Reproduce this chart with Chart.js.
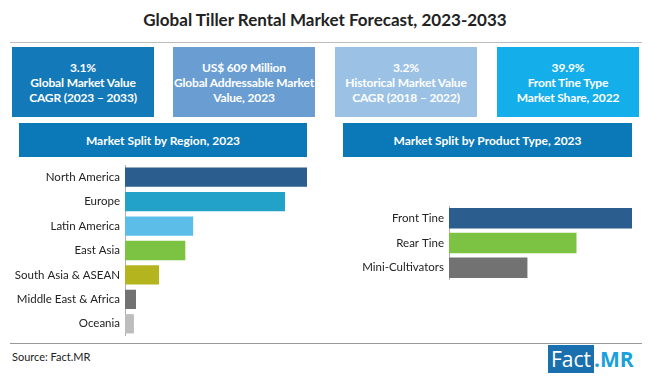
<!DOCTYPE html>
<html>
<head>
<meta charset="utf-8">
<script src="https://cdn.jsdelivr.net/npm/chart.js@4/dist/chart.umd.min.js"></script>
<style>
  html,body{margin:0;padding:0;background:#fff;}
  #wrap{position:relative;width:650px;height:377px;overflow:hidden;font-family:Lato,"Open Sans",sans-serif;}
  .title{position:absolute;left:0;top:9px;width:650px;text-align:center;font-weight:bold;font-size:17px;color:#222;}
  .hline{position:absolute;height:1px;background:#bdbdbd;}
  .box{position:absolute;top:47px;height:70px;width:142px;color:#fff;font-weight:bold;font-size:12px;line-height:15px;text-align:center;display:flex;align-items:center;justify-content:center;white-space:nowrap;letter-spacing:-0.15px;}
  .hdr{position:absolute;top:123px;height:34px;background:#0b78b8;color:#fff;font-weight:bold;font-size:12px;display:flex;align-items:center;justify-content:center;}
  .src{position:absolute;left:12px;top:350px;font-size:11px;color:#222;}
  .logo{position:absolute;top:348px;left:548px;font-size:21px;line-height:23px;font-family:"Open Sans",sans-serif;}
  .logo .f{background:#1a6fae;color:#fff;padding:0 3px;}
  .logo .m{color:#1aa0dc;font-weight:bold;}
  canvas{position:absolute;display:block;}
</style>
</head>
<body>
<div id="wrap">
  <div class="title">Global Tiller Rental Market Forecast, 2023-2033</div>
  <div class="hline" style="left:10px;top:42px;width:632px;"></div>
  <div class="box" style="left:12px;background:#1479b8;">3.1%<br>Global Market Value<br>CAGR (2023 – 2033)</div>
  <div class="box" style="left:173px;background:#6a9ed3;">US$ 609 Million<br>Global Addressable Market<br>Value, 2023</div>
  <div class="box" style="left:335px;background:#9bc2e5;">3.2%<br>Historical Market Value<br>CAGR (2018 – 2022)</div>
  <div class="box" style="left:497px;background:#14aeea;">39.9%<br>Front Tine Type<br>Market Share, 2022</div>
  <div class="hdr" style="left:19px;width:288px;">Market Split by Region, 2023</div>
  <div class="hdr" style="left:343px;width:289px;">Market Split by Product Type, 2023</div>
  <canvas id="c1" width="307" height="171" style="left:0;top:165px;width:307px;height:171px;"></canvas>
  <canvas id="c2" width="302" height="74" style="left:330px;top:206px;width:302px;height:74px;"></canvas>
  <div class="hline" style="left:10px;top:343px;width:632px;background:#999;"></div>
  <div class="src">Source: Fact.MR</div>
  <div class="logo"><span class="f">Fact</span><span class="m">.MR</span></div>
</div>
<script>
const regions = ["North America","Europe","Latin America","East Asia","South Asia & ASEAN","Middle East & Africa","Oceania"];
const regionShare = [34.7, 30.5, 13.0, 11.5, 6.5, 2.1, 1.7];
const regionColors = ["#2b5d8f","#22a1c9","#5cbde8","#7cc243","#b4b41f","#727272","#bdbdbd"];
const products = ["Front Tine","Rear Tine","Mini-Cultivators"];
const productShare = [39.9, 27.8, 17.1];
const productColors = ["#2b5d8f","#7cc243","#727272"];

function makeChart(id, labels, values, colors, axisWidth, barPct) {
  return new Chart(document.getElementById(id), {
    type: 'bar',
    data: { labels: labels, datasets: [{ data: values, backgroundColor: colors, barPercentage: barPct, categoryPercentage: 1.0 }] },
    options: {
      indexAxis: 'y',
      responsive: false,
      animation: false,
      layout: { padding: 0 },
      plugins: { legend: { display: false }, tooltip: { enabled: false } },
      scales: {
        x: { display: false, min: 0, max: Math.max(...values) },
        y: {
          grid: { display: false, drawTicks: false },
          border: { display: true, color: '#b0b0b0', width: 1 },
          ticks: { color: '#222', font: { family: 'Lato', size: 11.5 }, padding: 5 },
          afterFit: function(s){ s.width = axisWidth; s.paddingTop = 0; s.paddingBottom = 0; }
        }
      }
    }
  });
}
makeChart('c1', regions, regionShare, regionColors, 125, 0.79);
makeChart('c2', products, productShare, productColors, 119, 0.83);
</script>
</body>
</html>
